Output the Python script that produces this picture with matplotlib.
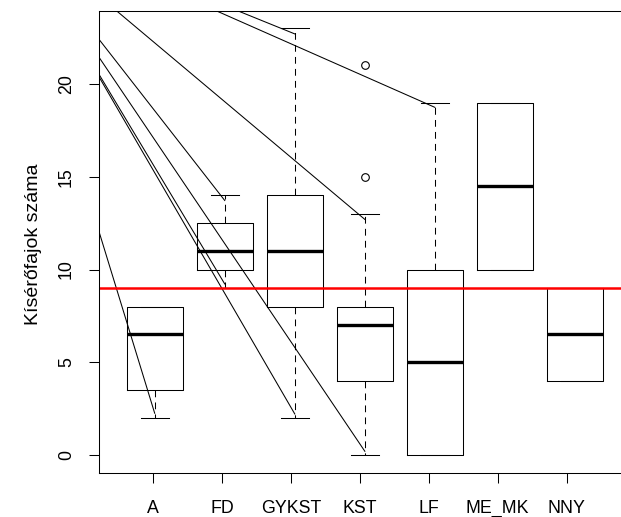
import matplotlib
matplotlib.use("Agg")
import matplotlib.pyplot as plt
import numpy as np

# ---- data ----
categories = ["A", "FD", "GYKST", "KST", "LF", "ME_MK", "NNY"]
whislo = [2, 9, 2, 0, 0, 10, 4]
q1 = [3.5, 10, 8, 4, 0, 10, 4]
med = [6.5, 11, 11, 7, 5, 14.5, 6.5]
q3 = [8, 12.5, 14, 8, 10, 19, 9]
whishi = [8, 14, 23, 13, 19, 19, 9]
outliers = [[], [], [], [15, 21], [], [], []]
ref_level = 9

# oblique line segments (start, end) in data units
seg_x0 = [0, 0, 0, 0, 0, 0, 0, 0]
seg_y0 = [14.57, 23.40, 21.81, 21.72, 27.29, 22.59, 25.39, 27.08]
seg_x1 = [1, 2, 2, 3, 3, 4, 4, 5]
seg_y1 = [2.25, 13.72, 9.22, 2.21, 22.70, 0.20, 12.70, 18.74]

# axis tick placement (ticks slightly narrower spaced than boxes)
tick_step = 0.9843
tick_offset = -0.0086

W, H = 621, 517
plt.rcParams['font.family'] = ['Liberation Sans', 'DejaVu Sans']
fig = plt.figure(figsize=(W / 100, H / 100), dpi=100)
left_px, right_px, top_px, bot_px = 99, 640, 11, 473
ax = fig.add_axes([left_px / W, 1 - bot_px / H, (right_px - left_px) / W, (bot_px - top_px) / H])

positions = np.arange(1, len(categories) + 1)
stats = []
for i, c in enumerate(categories):
    stats.append(dict(med=med[i], q1=q1[i], q3=q3[i], whislo=whislo[i],
                      whishi=whishi[i], fliers=outliers[i], label=c))

lw = 0.75
ax.bxp(stats, positions=positions, widths=0.8, capwidths=0.4, showfliers=True,
       boxprops=dict(color='black', linewidth=lw),
       whiskerprops=dict(color='black', linewidth=lw, linestyle=(0, (6.5, 5))),
       capprops=dict(color='black', linewidth=lw),
       medianprops=dict(color='black', linewidth=2.4, solid_capstyle='butt'),
       flierprops=dict(marker='o', markerfacecolor='none', markeredgecolor='black',
                       markersize=5.5, markeredgewidth=0.8))

for x0, y0, x1, y1 in zip(seg_x0, seg_y0, seg_x1, seg_y1):
    ax.plot([x0, x1], [y0, y1], color='black', linewidth=lw)

ax.axhline(ref_level, color='red', linewidth=1.8)

ax.set_xlim(0.2049, 1 + (right_px - 154.7) / 70.05)
ax.set_ylim((455 - bot_px) / 18.55, (455 - top_px) / 18.55)

ax.set_xticks(positions * tick_step + tick_offset)
ax.set_xticklabels(categories, fontsize=12.8)
ax.set_yticks([0, 5, 10, 15, 20])
ax.set_yticklabels(["0", "5", "10", "15", "20"], rotation=90, va='center', fontsize=12.8)
ax.tick_params(axis='both', length=7.2, width=0.75, color='black', direction='out')
ax.tick_params(axis='x', pad=12)
ax.tick_params(axis='y', pad=10)
for s in ax.spines.values():
    s.set_linewidth(0.75)

fig.text(34 / W, 1 - 244 / H, "Kísérőfajok száma", rotation=90, ha='center', va='center', fontsize=14)

fig.savefig("out.png", dpi=100)
